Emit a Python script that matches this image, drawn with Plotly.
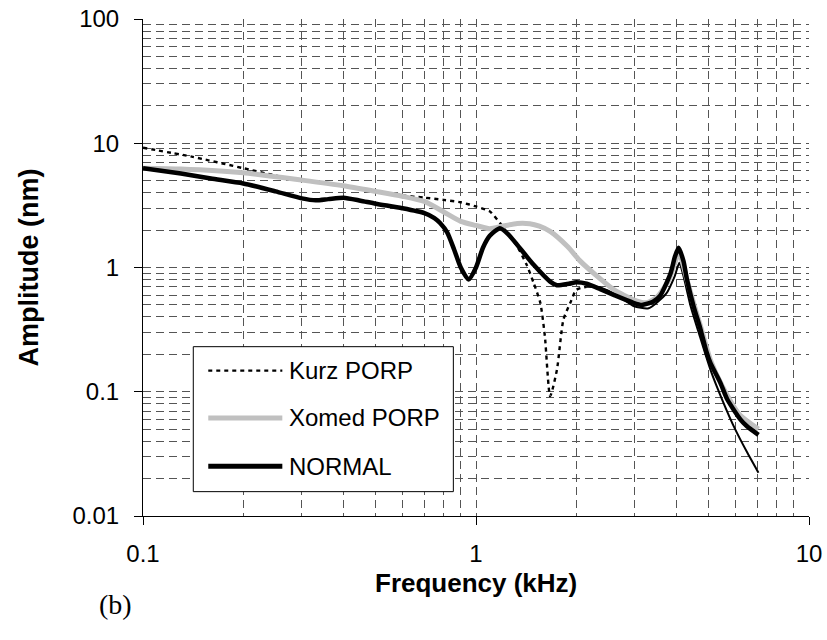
import plotly.graph_objects as go

# ---- data (frequency in kHz, amplitude in nm) ----
normal_f = [0.1, 0.13, 0.16, 0.2, 0.25, 0.3, 0.33, 0.36, 0.40, 0.45, 0.5, 0.6, 0.7, 0.75, 0.78,
            0.82, 0.86, 0.9, 0.95, 1.0, 1.05, 1.1, 1.18, 1.25, 1.33, 1.49, 1.67, 1.75, 1.9, 2.0,
            2.15, 2.36, 2.6, 2.97, 3.15, 3.4, 3.57, 3.84, 3.96, 4.06, 4.2, 4.3, 4.5, 4.72, 4.92,
            5.06, 5.42, 5.68, 6.22, 6.5, 7.05]
normal_a = [6.3, 5.7, 5.2, 4.75, 4.1, 3.6, 3.47, 3.55, 3.65, 3.45, 3.26, 3.0, 2.74, 2.5, 2.28,
            1.91, 1.39, 1.0, 0.80, 1.0, 1.45, 1.8, 2.07, 1.85, 1.52, 1.05, 0.77, 0.72, 0.74, 0.76,
            0.74, 0.67, 0.60, 0.52, 0.50, 0.53, 0.59, 0.90, 1.23, 1.44, 1.12, 0.80, 0.49, 0.32, 0.21,
            0.17, 0.118, 0.087, 0.06, 0.053, 0.045]

kurz_f = [0.1, 0.14, 0.2, 0.25, 0.3, 0.4, 0.5, 0.6, 0.7, 0.8, 0.9, 1.0, 1.1, 1.18, 1.25, 1.33,
          1.42, 1.49, 1.56, 1.61, 1.67, 1.75, 1.83, 1.92, 2.0, 2.15, 2.36, 2.7, 2.97, 3.3, 3.73,
          3.95, 4.08, 4.2, 4.4, 4.7, 5.06, 5.5, 6.0, 6.5, 7.05]
kurz_a = [9.2, 7.8, 6.3, 5.5, 5.0, 4.55, 4.1, 3.8, 3.65, 3.5, 3.35, 3.1, 2.83, 2.28, 1.85, 1.48,
          1.05, 0.75, 0.52, 0.28, 0.092, 0.15, 0.38, 0.52, 0.66, 0.70, 0.69, 0.58, 0.49, 0.47, 0.62,
          0.85, 1.09, 0.85, 0.5, 0.28, 0.15, 0.085, 0.05, 0.033, 0.0223]
kurz_solid_from = 2.15  # the Kurz curve is drawn as a thin solid line above this frequency

xomed_f = [0.1, 0.13, 0.2, 0.3, 0.4, 0.5, 0.6, 0.7, 0.8, 0.9, 1.0, 1.1, 1.2, 1.33, 1.45, 1.55,
           1.67, 1.88, 2.06, 2.3, 2.6, 2.97, 3.25, 3.5, 3.8, 4.07, 4.3, 4.5, 4.72, 5.06, 5.5,
           6.2, 7.05]
xomed_a = [6.3, 6.2, 5.78, 5.05, 4.55, 4.1, 3.75, 3.4, 2.8, 2.35, 2.18, 2.05, 2.15, 2.26, 2.25,
           2.15, 1.95, 1.48, 1.12, 0.86, 0.66, 0.55, 0.52, 0.58, 0.8, 1.3, 0.8, 0.52, 0.34, 0.18,
           0.11, 0.065, 0.05]

series_names = ["Kurz PORP", "Xomed PORP", "NORMAL"]
x_title = "Frequency (kHz)"
y_title = "Amplitude (nm)"
x_ticks = [0.1, 1, 10]
x_ticktext = ["0.1", "1", "10"]
y_ticks = [0.01, 0.1, 1, 10, 100]
y_ticktext = ["0.01", "0.1", "1", "10", "100"]
panel_label = "(b)"

# ---- style ----
FONT = "Liberation Sans, Arial, sans-serif"
GRID = "#555555"
KURZ_COLOR = "#000000"
XOMED_COLOR = "#c0c0c0"
NORMAL_COLOR = "#000000"
KURZ_DASH = "4px,4px"

minor_x = [m * d for d in (0.1, 1) for m in range(2, 10)]
minor_y = [m * d for d in (0.01, 0.1, 1, 10) for m in range(2, 10)]

kd_f = [f for f in kurz_f if f <= kurz_solid_from]
kd_a = kurz_a[:len(kd_f)]
ks_f = kurz_f[len(kd_f) - 1:]
ks_a = kurz_a[len(kd_f) - 1:]

fig = go.Figure()
fig.add_trace(go.Scatter(x=kd_f, y=kd_a, mode="lines", name=series_names[0],
                         line=dict(color=KURZ_COLOR, width=2.4, dash=KURZ_DASH, shape="spline",
                                   smoothing=0.6)))
fig.add_trace(go.Scatter(x=ks_f, y=ks_a, mode="lines", name=series_names[0], showlegend=False,
                         line=dict(color=KURZ_COLOR, width=2, shape="spline", smoothing=0.6)))
fig.add_trace(go.Scatter(x=xomed_f, y=xomed_a, mode="lines", name=series_names[1],
                         line=dict(color=XOMED_COLOR, width=5, shape="spline", smoothing=0.6)))
fig.add_trace(go.Scatter(x=normal_f, y=normal_a, mode="lines", name=series_names[2],
                         line=dict(color=NORMAL_COLOR, width=4.5, shape="spline", smoothing=0.6)))

axis_common = dict(
    type="log", showline=True, linecolor="black", linewidth=1,
    ticks="outside", ticklen=8, tickcolor="black", tickwidth=1,
    showgrid=True, gridcolor=GRID, gridwidth=1, griddash="8px,5px",
    zeroline=False, tickfont=dict(family=FONT, size=24, color="black"),
    tickmode="array", ticklabeloverflow="allow",
)

fig.update_xaxes(**axis_common, range=[-1, 1], tickvals=x_ticks, ticktext=x_ticktext,
                 minor=dict(tickvals=minor_x, showgrid=True, gridcolor=GRID, gridwidth=1,
                            griddash="8px,5px", ticks=""),
                 ticklabelstandoff=8)
fig.update_yaxes(**axis_common, range=[-2, 2], tickvals=y_ticks, ticktext=y_ticktext,
                 minor=dict(tickvals=minor_y, showgrid=True, gridcolor=GRID, gridwidth=1,
                            griddash="8px,5px", ticks=""),
                 ticklabelstandoff=10,
                 title=dict(text=y_title, standoff=26,
                            font=dict(family=FONT, size=27, color="black", weight="bold")))

# ---- hand-drawn legend box (Excel style, long line samples) ----
L = dict(x0=0.0755, x1=0.466, y0=0.049, y1=0.3407)
shapes = [dict(type="rect", xref="paper", yref="paper", layer="above",
               line=dict(color="black", width=1), fillcolor="white", **L)]
legend_rows = [(0.2925, dict(color=KURZ_COLOR, width=2.4, dash=KURZ_DASH)),
               (0.1974, dict(color=XOMED_COLOR, width=5)),
               (0.1001, dict(color=NORMAL_COLOR, width=5))]
annotations = []
for name, (yy, ln) in zip(series_names, legend_rows):
    shapes.append(dict(type="line", xref="paper", yref="paper", layer="above",
                       x0=0.098, x1=0.2092, y0=yy, y1=yy, line=ln))
    annotations.append(dict(text=name, xref="paper", yref="paper", x=0.2167, y=yy,
                            xanchor="left", yanchor="middle", showarrow=False,
                            font=dict(family=FONT, size=24, color="black")))
# x-axis title (placed as annotation so it can sit close to the tick labels)
annotations.append(dict(text=x_title, xref="paper", yref="paper", x=0.5, y=-0.1357,
                        xanchor="center", yanchor="middle", showarrow=False,
                        font=dict(family=FONT, size=26, color="black", weight="bold")))
annotations.append(dict(text=panel_label, xref="paper", yref="paper", x=-0.0416, y=-0.178,
                        xanchor="center", yanchor="middle", showarrow=False,
                        font=dict(family="Liberation Serif, Times New Roman, serif", size=28,
                                  color="black")))

fig.update_layout(
    width=827, height=640,
    margin=dict(l=143, r=18, t=19, b=124, autoexpand=False),
    paper_bgcolor="white", plot_bgcolor="white",
    showlegend=False,
    shapes=shapes, annotations=annotations,
    font=dict(family=FONT, color="black"),
)

# remove the browser's default 8px page margin so the figure sits at the window origin
fig.write_html("out.html", config={"displayModeBar": False},
               post_script="document.body.style.margin='0';")
